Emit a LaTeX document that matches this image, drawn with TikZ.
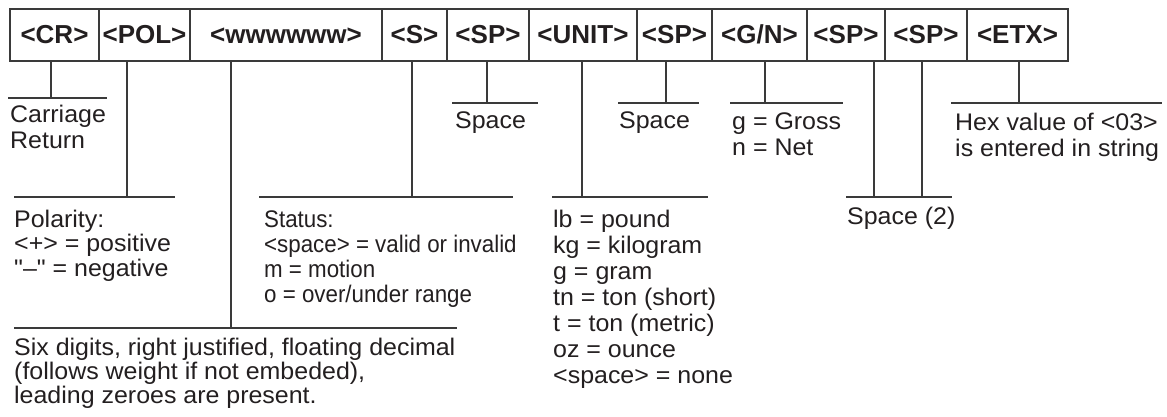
\documentclass[tikz,border=0pt]{standalone}
\usepackage{fontspec}
\setmainfont{Liberation Sans}
\newfontfamily\bodyfont[FakeStretch=1.04]{Liberation Sans}
\newfontfamily\statfont[FakeStretch=0.93]{Liberation Sans}
\definecolor{ink}{HTML}{231F20}
\definecolor{rulec}{HTML}{3A3A3A}
\begin{document}
\begin{tikzpicture}[x=1pt,y=-1pt,
  cell/.style={draw=rulec, line width=1.1pt, minimum height=52pt, inner sep=0pt,
    text height=21pt, text depth=3pt, font=\bfseries\fontsize{26}{26}\selectfont, text=ink},
  lbl/.style={anchor=base west, inner sep=0pt, align=left, text=ink,
    font=\bodyfont\fontsize{24}{26}\selectfont},
  conn/.style={draw=rulec, line width=1.1pt}]
\fill[white] (0,0) rectangle (1167,417);
\useasboundingbox (0,0) rectangle (1167,417);

% header cells
\node[cell, minimum width=89pt]  (cr)   at (54.5,35)  {<CR>};
\node[cell, minimum width=91pt]  (pol)  at (144.5,35) {<POL>};
\node[cell, minimum width=192pt] (www)  at (286,35)   {<wwwwww>};
\node[cell, minimum width=65pt]  (st)   at (414.5,35) {<S>};
\node[cell, minimum width=82pt]  (spa)  at (488,35)   {<SP>};
\node[cell, minimum width=108pt] (unit) at (583,35)   {<UNIT>};
\node[cell, minimum width=75pt]  (spb)  at (674.5,35) {<SP>};
\node[cell, minimum width=95pt]  (gn)   at (759.5,35) {<G/N>};
\node[cell, minimum width=78pt]  (spc)  at (846,35)   {<SP>};
\node[cell, minimum width=82pt]  (spd)  at (926,35)   {<SP>};
\node[cell, minimum width=101pt] (etx)  at (1017.5,35){<ETX>};

% bar junction points
\coordinate (crJ)   at (51,98);
\coordinate (polJ)  at (127,197);
\coordinate (wwwJ)  at (231,328);
\coordinate (stJ)   at (412,197);
\coordinate (spaJ)  at (487,103);
\coordinate (unitJ) at (582,197);
\coordinate (spbJ)  at (666,103);
\coordinate (gnJ)   at (765,103);
\coordinate (spcJ)  at (874,197);
\coordinate (spdJ)  at (922,197);
\coordinate (etxJ)  at (1019,103);

% verticals
\foreach \n in {cr,pol,www,st,spa,unit,spb,gn,spc,spd,etx}
  \draw[conn] (\n.south -| \n J) -- (\n J);

% horizontal bars
\draw[conn] (crJ -| 8,0)    -- (crJ -| 107,0);
\draw[conn] (polJ -| 14,0)  -- (polJ -| 175,0);
\draw[conn] (wwwJ -| 14,0)  -- (wwwJ -| 457,0);
\draw[conn] (stJ -| 259,0)  -- (stJ -| 513,0);
\draw[conn] (spaJ -| 452,0) -- (spaJ -| 538,0);
\draw[conn] (unitJ -| 552,0)-- (unitJ -| 708,0);
\draw[conn] (spbJ -| 618,0) -- (spbJ -| 699,0);
\draw[conn] (gnJ -| 730,0)  -- (gnJ -| 843,0);
\draw[conn] (spcJ -| 846,0) -- (spdJ -| 952,0);
\draw[conn] (etxJ -| 951,0) -- (etxJ -| 1162,0);

% labels (anchor = baseline of the LAST line)
\node[lbl] (crT) at (10,149) {Carriage\\Return};
\node[lbl] (spaT) at (455,129) {Space};
\node[lbl] (spbT) at (619,129) {Space};
\node[lbl] (gnT) at (732,156) {g = Gross\\n = Net};
\node[lbl] (etxT) at (955,157) {Hex value of <03>\\is entered in string};
\node[lbl, font=\bodyfont\fontsize{24}{24.5}\selectfont] (polT) at (14,276)
  {Polarity:\\<+> = positive\\"–" = negative};
\node[lbl, font=\statfont\fontsize{24}{25}\selectfont] (stT) at (264,302)
  {Status:\\<space> = valid or invalid\\m = motion\\o = over/under range};
\node[lbl] (unitT) at (553,383)
  {lb = pound\\kg = kilogram\\g = gram\\tn = ton (short)\\t = ton (metric)\\oz = ounce\\<space> = none};
\node[lbl] (spcT) at (847,224) {Space (2)};
\node[lbl, font=\bodyfont\fontsize{24}{24}\selectfont] (wwwT) at (14,403)
  {Six digits, right justified, floating decimal\\(follows weight if not embeded),\\leading zeroes are present.};
\end{tikzpicture}
\end{document}
